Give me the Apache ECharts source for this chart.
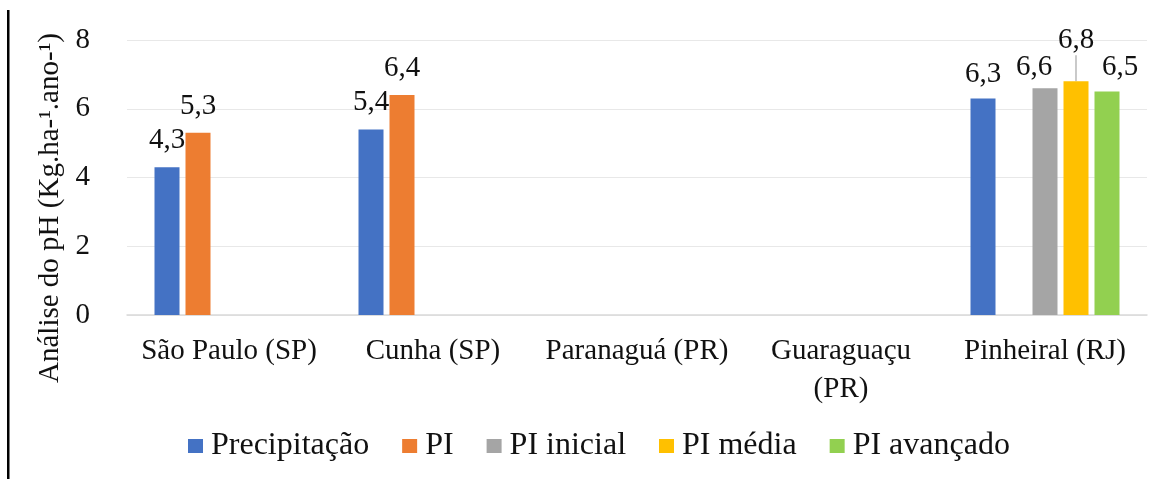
<!DOCTYPE html>
<html>
<head>
	<meta charset="utf-8" />
	<title>Análise do pH</title>
	<script src="https://cdn.jsdelivr.net/npm/echarts@6/dist/echarts.min.js"></script>
	<style>
		html, body {margin:0;padding:0;background:#fff;}
		#chart {width:1170px;height:479px;}
	</style>
</head>
<body>
	<div id="chart"></div>

	<script>
		var categories = ['São Paulo (SP)', 'Cunha (SP)', 'Paranaguá (PR)', 'Guaraguaçu\n(PR)', 'Pinheiral (RJ)'];
		var seriesNames = ['Precipitação', 'PI', 'PI inicial', 'PI média', 'PI avançado'];
		var seriesColors = ['#4472c4', '#ed7d31', '#a5a5a5', '#ffc000', '#92d050'];

		var precipitacao = [4.3, 5.4, null, null, 6.3];
		var pi           = [5.3, 6.4, null, null, null];
		var piInicial    = [null, null, null, null, 6.6];
		var piMedia      = [null, null, null, null, 6.8];
		var piAvancado   = [null, null, null, null, 6.5];

		var yTicks = {min: 0, max: 8, interval: 2};

		var font = 'Liberation Serif';
		var values = [precipitacao, pi, piInicial, piMedia, piAvancado];

		// rótulos arrastados à mão no original (Pinheiral)
		var labelShift = [
			[null, null, null, null, [0, 2]],
			[null, null, null, null, null],
			[null, null, null, null, [-11, 6]],
			[null, null, null, null, null],
			[null, null, null, null, [13, 2]]
		];

		var chart = echarts.init(document.getElementById('chart'));

		var series = values.map(function(vals, i) {
			var s = {
				name: seriesNames[i],
				type: 'bar',
				barWidth: 25,
				barGap: '24%',
				itemStyle: {color: seriesColors[i]},
				data: vals.map(function(v, j) {
					if (v === null) return '-';
					var sh = labelShift[i][j] || [0, 0];
					return {value: v, label: {offset: sh}};
				}),
				label: {
					show: true,
					position: 'top',
					distance: 12,
					fontFamily: font,
					fontSize: 29,
					color: '#111',
					formatter: function(p) {
						return String(p.value).replace('.', ',');
					}
				}
			};
			if (i === 3) {
				s.labelLayout = {dy: -16};
				s.label.distance = 10;
				s.labelLine = {show: true, lineStyle: {color: '#a6a6a6', width: 1.2}};
			}
			return s;
		});

		var option = {
			animation: false,
			textStyle: {fontFamily: font},
			grid: {left: 127, right: 23, top: 40, bottom: 164},
			legend: {
				data: seriesNames,
				top: 425,
				left: 183,
				icon: 'rect',
				itemWidth: 15,
				itemHeight: 14,
				itemGap: 33,
				textStyle: {fontFamily: font, fontSize: 32, color: '#111', padding: [0, 0, 0, 3]}
			},
			xAxis: {
				type: 'category',
				data: categories,
				axisLine: {lineStyle: {color: '#d9d9d9', width: 1.5}},
				axisTick: {show: false},
				axisLabel: {
					interval: 0,
					hideOverlap: false,
					fontFamily: font,
					fontSize: 29,
					color: '#111',
					margin: 17,
					lineHeight: 38
				}
			},
			yAxis: {
				type: 'value',
				min: yTicks.min,
				max: yTicks.max,
				interval: yTicks.interval,
				axisLine: {show: false},
				axisTick: {show: false},
				splitLine: {lineStyle: {color: '#e8e8e8', width: 1}},
				axisLabel: {fontFamily: font, fontSize: 29, color: '#111', margin: 37}
			},
			graphic: [
				{
					type: 'text',
					x: 50,
					y: 208,
					rotation: Math.PI / 2,
					style: {
						text: 'Análise do pH (Kg.ha-¹.ano-¹)',
						fontFamily: font,
						fontSize: 29,
						fill: '#111',
						align: 'center',
						verticalAlign: 'middle'
					}
				},
				{
					type: 'rect',
					shape: {x: 7, y: 10, width: 2.5, height: 470},
					style: {fill: '#000'}
				}
			],
			series: series
		};

		chart.setOption(option);
	</script>
</body>
</html>
